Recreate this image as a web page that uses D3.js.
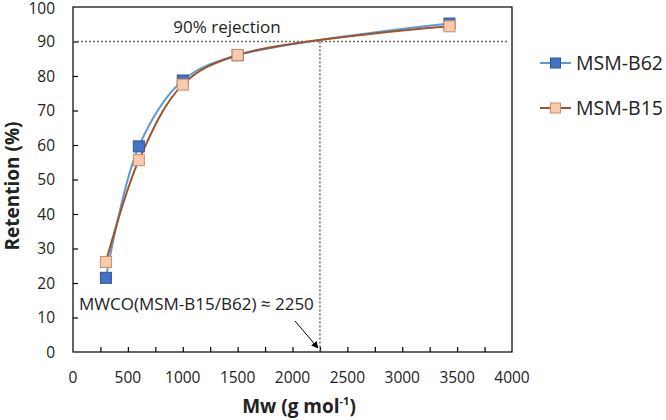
<!DOCTYPE html>
<html><head><meta charset="utf-8">
<script src="https://cdn.jsdelivr.net/npm/d3@7"></script>
<style>body{margin:0;background:#fff}text{font-family:"Open Sans","Noto Sans",sans-serif}</style>
</head><body><svg id="c" width="666" height="420"></svg>
<script>
const mw = [300, 600, 1000, 1500, 3430];
const b62 = [21.5, 59.6, 78.7, 86.0, 95.2];
const b15 = [26.1, 55.6, 77.5, 86.1, 94.4];
const xTickLabels = [0,500,1000,1500,2000,2500,3000,3500,4000];
const yTickLabels = [0,10,20,30,40,50,60,70,80,90,100];
const series = [
  {name:"MSM-B62", values:b62, line:"#5B9BD5", fill:"#4472C4", stroke:"#2F5597"},
  {name:"MSM-B15", values:b15, line:"#A0522D", fill:"#F8CBAD", stroke:"#D08A60"}
];
const rejection = 90, mwco = 2250;

const svg = d3.select("#c");
const L=73, R=512, T=7, B=352;
const x = d3.scaleLinear().domain([0,4000]).range([L,R]);
const y = d3.scaleLinear().domain([0,100]).range([B,T]);

// box
svg.append("rect").attr("x",L).attr("y",T).attr("width",R-L).attr("height",B-T)
  .attr("fill","none").attr("stroke","#000").attr("stroke-width",1.2);

// x axis
const xa = svg.append("g").attr("transform",`translate(0,${B})`)
  .call(d3.axisBottom(x).tickValues(d3.range(250,4000,250)).tickSize(-5).tickFormat(""));
xa.select(".domain").remove();
xa.selectAll("line").attr("stroke","#000").attr("stroke-width",1.2);
svg.selectAll(".xl").data(xTickLabels).join("text").attr("class","xl")
  .attr("x",d=>x(d)).attr("y",383).attr("text-anchor","middle")
  .attr("font-size",15.5).attr("fill","#222").text(d=>d);

// y axis
const ya = svg.append("g").attr("transform",`translate(${L},0)`)
  .call(d3.axisLeft(y).tickValues(d3.range(10,100,10)).tickSize(-5).tickFormat(""));
ya.select(".domain").remove();
ya.selectAll("line").attr("stroke","#000").attr("stroke-width",1.2);
svg.selectAll(".yl").data(yTickLabels).join("text").attr("class","yl")
  .attr("x",55).attr("y",d=>Math.max(y(d)+5.5,14)).attr("text-anchor","end")
  .attr("font-size",15.5).attr("fill","#222").text(d=>d);

// axis titles
svg.append("text").attr("transform",`translate(19,186) rotate(-90)`)
  .attr("text-anchor","middle").attr("font-size",19).attr("font-weight","bold").attr("fill","#222")
  .text("Retention (%)");
const xt = svg.append("text").attr("x",299).attr("y",413).attr("text-anchor","middle")
  .attr("font-size",19).attr("font-weight","bold").attr("fill","#222");
xt.append("tspan").text("Mw (g mol");
xt.append("tspan").attr("font-size",11).attr("dy",-8).text("-1");
xt.append("tspan").attr("dy",8).text(")");

// reference lines
svg.append("line").attr("x1",L).attr("x2",R-3).attr("y1",y(rejection)).attr("y2",y(rejection))
  .attr("stroke","#666").attr("stroke-width",1.5).attr("stroke-dasharray","2,2");
svg.append("line").attr("x1",x(mwco)).attr("x2",x(mwco)).attr("y1",y(rejection)).attr("y2",B)
  .attr("stroke","#666").attr("stroke-width",1.5).attr("stroke-dasharray","2,2");
svg.append("text").attr("x",227).attr("y",33).attr("text-anchor","middle")
  .attr("font-size",17).attr("fill","#222").text("90% rejection");
svg.append("text").attr("x",79).attr("y",310).attr("font-size",17).attr("fill","#222")
  .text("MWCO(MSM-B15/B62) ≈ 2250");

// arrow
svg.append("defs").append("marker").attr("id","ah").attr("viewBox","0 0 10 10")
  .attr("refX",9).attr("refY",5).attr("markerWidth",7).attr("markerHeight",7)
  .attr("orient","auto").append("path").attr("d","M0,0L10,5L0,10z").attr("fill","#000");
svg.append("line").attr("x1",295).attr("y1",321).attr("x2",x(mwco)-2).attr("y2",B-4)
  .attr("stroke","#000").attr("stroke-width",1).attr("marker-end","url(#ah)");

// series
const line = d3.line().x(d=>x(d[0])).y(d=>y(d[1])).curve(d3.curveCatmullRom.alpha(0.5));
series.forEach(s=>{
  const pts = mw.map((m,i)=>[m,s.values[i]]);
  svg.append("path").attr("d",line(pts)).attr("fill","none").attr("stroke",s.line).attr("stroke-width",2);
});
series.forEach(s=>{
  const pts = mw.map((m,i)=>[m,s.values[i]]);
  svg.selectAll(null).data(pts).join("rect")
    .attr("x",d=>x(d[0])-5.5).attr("y",d=>y(d[1])-5.5).attr("width",11).attr("height",11)
    .attr("fill",s.fill).attr("stroke",s.stroke).attr("stroke-width",1);
});

// legend
series.forEach((s,i)=>{
  const ly = 63 + i*45;
  svg.append("line").attr("x1",540).attr("x2",571).attr("y1",ly).attr("y2",ly)
    .attr("stroke",s.line).attr("stroke-width",2);
  svg.append("rect").attr("x",550.5).attr("y",ly-5).attr("width",10).attr("height",10)
    .attr("fill",s.fill).attr("stroke",s.stroke);
  svg.append("text").attr("x",576).attr("y",ly+7).attr("font-size",19.5).attr("fill","#222").text(s.name);
});
</script></body></html>
